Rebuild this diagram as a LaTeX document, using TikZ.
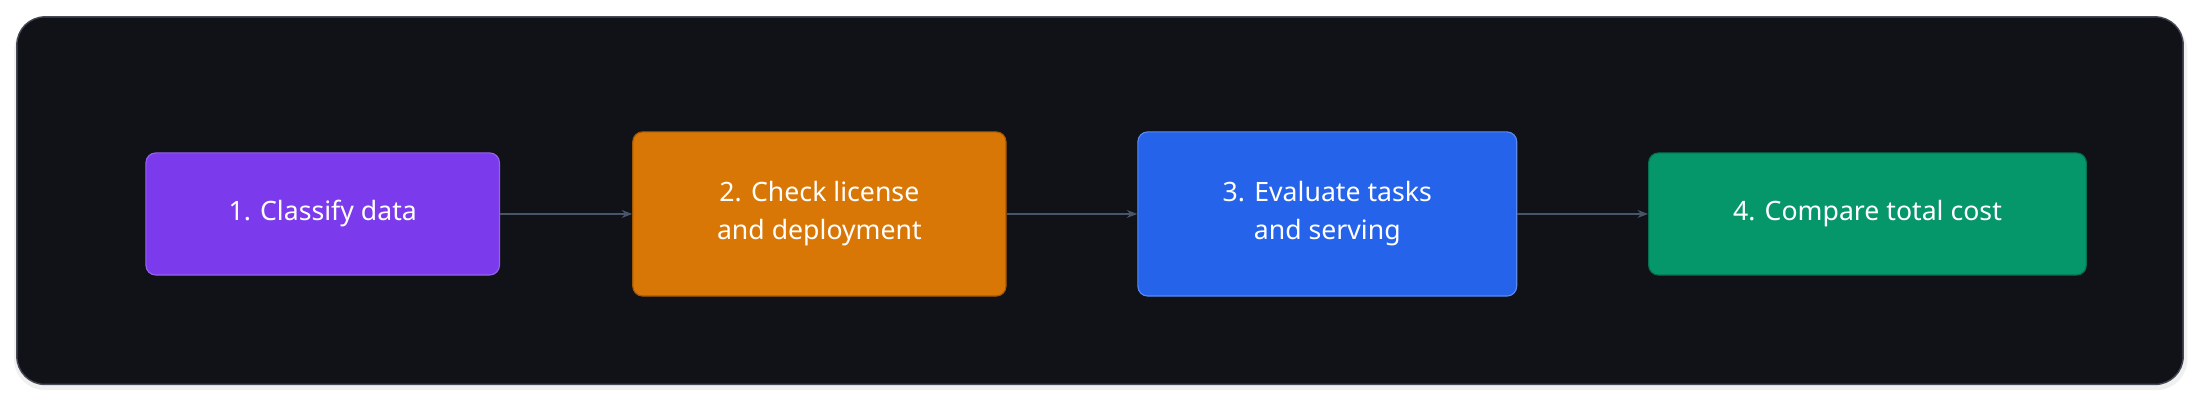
\documentclass[tikz,border=0pt]{standalone}
\usepackage{fontspec}
\setmainfont{Noto Sans}
\usetikzlibrary{arrows.meta,positioning}
\definecolor{panelbg}{RGB}{17, 18, 24}
\definecolor{panelline}{RGB}{70, 74, 86}
\definecolor{arrowgray}{RGB}{71, 85, 105}
\definecolor{stepviolet}{RGB}{124, 58, 237}
\definecolor{steporange}{RGB}{217, 119, 6}
\definecolor{stepblue}{RGB}{37, 99, 235}
\definecolor{stepgreen}{RGB}{5, 150, 105}

\begin{document}
\begin{tikzpicture}[x=1pt, y=-1pt, >=Stealth,
			stage/.style={draw, rectangle, rounded corners=7pt, line width=0.8pt, text=white, align=center, font=\fontsize{19}{27}\selectfont, inner sep=0pt},
			flowLine/.style={line width=1pt, ->, color=arrowgray}
			]
			\useasboundingbox (0,0) rectangle (1568,287);
			\fill[black!6, rounded corners=22pt] (10,14) rectangle (1559,278);
			\draw[panelline, fill=panelbg, line width=1pt, rounded corners=20pt] (12,12) rectangle (1556,274);
			
			\node[stage, fill=stepviolet, draw=stepviolet!80!white, minimum width=252pt, minimum height=87pt](s1) at (230,152.5) {1. Classify data};
			\node[stage, fill=steporange, draw=steporange!75!black, minimum width=266pt, minimum height=117pt](s2) at (584,152.5) {2. Check license\\and deployment};
			\node[stage, fill=stepblue, draw=stepblue!75!white, minimum width=270pt, minimum height=117pt](s3) at (946,152.5) {3. Evaluate tasks\\and serving};
			\node[stage, fill=stepgreen, draw=stepgreen!75!black, minimum width=312pt, minimum height=87pt](s4) at (1331,152.5) {4. Compare total cost};
			
			\draw [flowLine] (s1) to (s2);
			\draw [flowLine] (s2) to (s3);
			\draw [flowLine] (s3) to (s4);
			\end{tikzpicture}
\end{document}
